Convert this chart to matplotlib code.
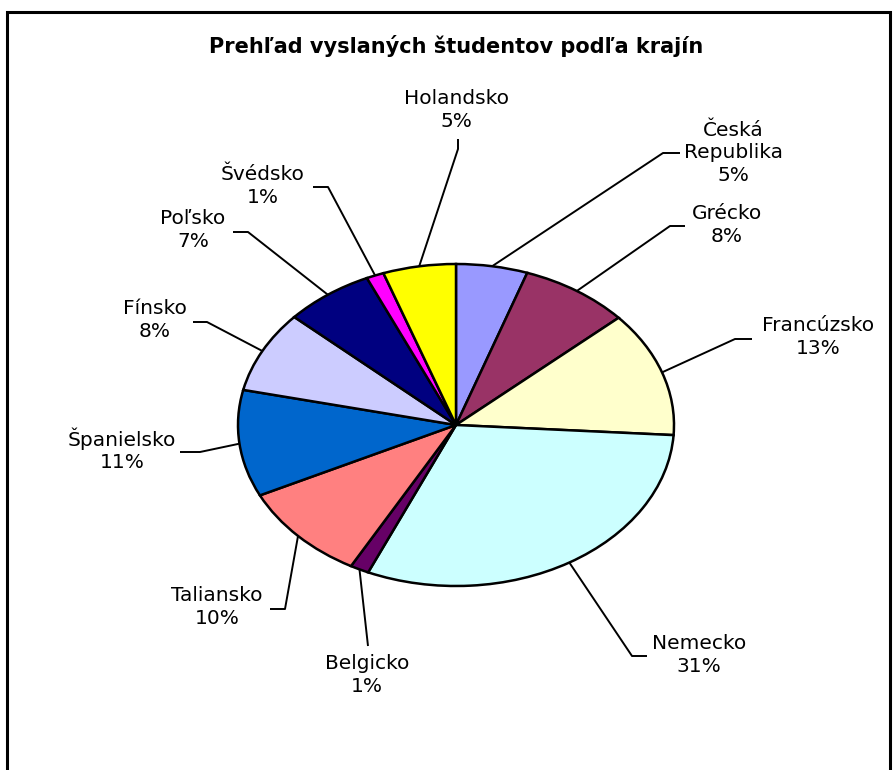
import matplotlib
matplotlib.use("Agg")
import matplotlib.pyplot as plt
from matplotlib.patches import Rectangle
import numpy as np

# podiel vyslanych studentov (odhad z grafu), poradie v smere hodinovych ruciciek od 12 h
krajiny = ["Česká\nRepublika", "Grécko", "Francúzsko", "Nemecko", "Belgicko",
           "Taliansko", "Španielsko", "Fínsko", "Poľsko", "Švédsko", "Holandsko"]
podiel = [5.3, 8.1, 12.6, 30.6, 1.4, 9.8, 10.7, 8.2, 6.6, 1.3, 5.4]
farby = ["#9999FF", "#993366", "#FFFFCC", "#CCFFFF", "#660066",
         "#FF8080", "#0066CC", "#CCCCFF", "#000080", "#FF00FF", "#FFFF00"]

W, H = 896, 770
CX, CY, RX, RY = 456, 425, 218, 161   # stred a polosi elipsy v pixeloch

# umiestnenie popisov v pixeloch: stred textu, zalomenie ciary, koniec ciary
text_xy = [(733, 153), (727, 225), (818, 337), (699, 655), (367, 675),
           (217, 607), (122, 450), (155, 320), (193, 230), (263, 186), (456, 110)]
lom_xy = [(663, 153), (670, 226), (735, 339), (632, 656), (368, 646),
          (285, 609), (200, 452), (207, 322), (248, 232), (328, 187), (458, 149)]
koniec_xy = [(680, 153), (685, 226), (752, 339), (647, 656), (368, 646),
             (270, 609), (180, 452), (193, 322), (233, 232), (313, 187), (458, 139)]


def px(x, y):
    # pixel -> datove suradnice (polomer kolaca = 1)
    return (x - CX) / RX, (CY - y) / RY


plt.rcParams['font.family'] = ['DejaVu Sans']
fig = plt.figure(figsize=(W / 100, H / 100), dpi=100)
ax = fig.add_axes([0, 0, 1, 1])

wedges, _ = ax.pie(podiel, colors=farby, startangle=90, counterclock=False,
                   wedgeprops=dict(edgecolor='black', linewidth=1.8))
ax.set_aspect('auto')
ax.set_xlim(px(0, 0)[0], px(W, 0)[0])
ax.set_ylim(px(0, H)[1], px(0, 0)[1])
ax.axis('off')

spolu = sum(podiel)
kum = np.cumsum([0] + podiel[:-1])
for i, (nazov, v) in enumerate(zip(krajiny, podiel)):
    stred = (kum[i] + v / 2) / spolu
    th = np.deg2rad(90 - 360 * stred)
    x0, y0 = np.cos(th), np.sin(th)
    xl, yl = px(*lom_xy[i])
    xk, yk = px(*koniec_xy[i])
    ax.plot([x0, xl, xk], [y0, yl, yk], color='black', lw=1.4,
            solid_capstyle='butt', zorder=1)
    pct = "%d%%" % round(100 * v / spolu)
    tx, ty = px(*text_xy[i])
    ax.text(tx, ty, nazov + "\n" + pct, ha='center', va='center',
            multialignment='center', fontsize=14.5, linespacing=1.22,
            color='black')

fig.text(CX / W, 1 - 46 / H, "Prehľad vyslaných študentov podľa krajín",
         ha='center', va='center', fontsize=15, fontweight='bold')

# ramcek grafu (spodna hrana je mimo obrazka)
fig.patches.append(Rectangle((7 / W, -0.05), 883 / W, 1.05 - 12 / H,
                             transform=fig.transFigure, fill=False,
                             edgecolor='black', linewidth=2.2))

fig.savefig("out.png", dpi=100, facecolor='white')
